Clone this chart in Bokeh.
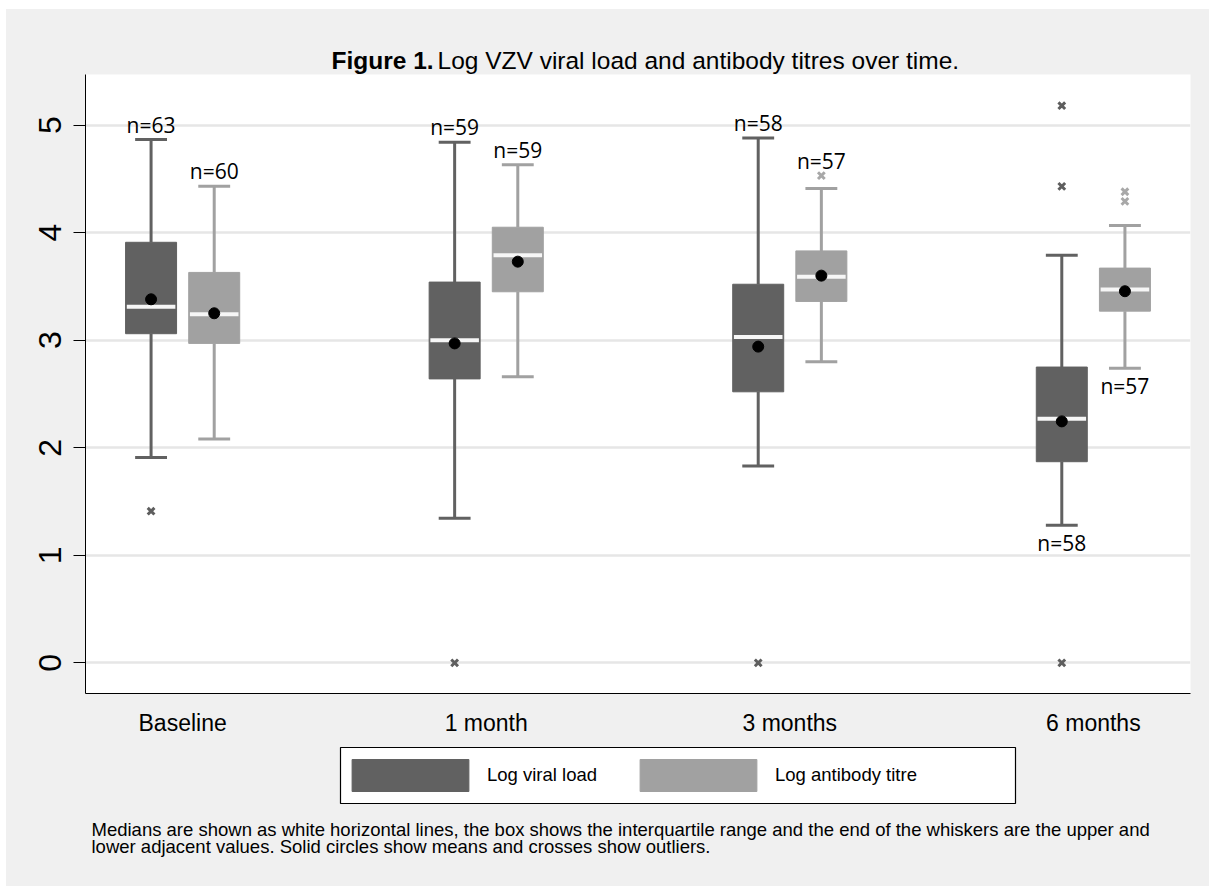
import numpy as np
from bokeh.plotting import figure
from bokeh.layouts import column
from bokeh.models import (BoxAnnotation, ColumnDataSource, FixedTicker, Label, Legend,
                          LegendItem, Range1d)
from bokeh.core.properties import value
from bokeh.embed import file_html
from bokeh.resources import INLINE

# ---------------- data ----------------
timepoints = ["Baseline", "1 month", "3 months", "6 months"]
series_names = ["Log viral load", "Log antibody titre"]

vl_q1 = [3.06, 2.64, 2.52, 1.87]
vl_median = [3.31, 3.00, 3.03, 2.27]
vl_q3 = [3.91, 3.54, 3.52, 2.75]
vl_lower = [1.91, 1.345, 1.83, 1.28]
vl_upper = [4.865, 4.84, 4.88, 3.79]
vl_mean = [3.38, 2.97, 2.94, 2.245]
vl_n = [63, 59, 58, 58]
vl_outliers = [[1.41], [0.0], [0.0], [0.0, 4.43, 5.18]]
vl_nside = ["above", "above", "above", "below"]

ab_q1 = [2.97, 3.45, 3.36, 3.27]
ab_median = [3.24, 3.79, 3.59, 3.47]
ab_q3 = [3.63, 4.05, 3.83, 3.67]
ab_lower = [2.08, 2.66, 2.80, 2.74]
ab_upper = [4.43, 4.63, 4.41, 4.065]
ab_mean = [3.25, 3.73, 3.60, 3.455]
ab_n = [60, 59, 57, 57]
ab_outliers = [[], [], [4.53], [4.29, 4.38]]
ab_nside = ["above", "above", "above", "below"]

y_ticks = [0, 1, 2, 3, 4, 5]

title_bold = "Figure 1."
title_rest = "Log VZV viral load and antibody titres over time."
note_1 = ("Medians are shown as white horizontal lines, the box shows the interquartile range "
          "and the end of the whiskers are the upper and")
note_2 = "lower adjacent values. Solid circles show means and crosses show outliers."

# ---------------- styling ----------------
FONT = "Liberation Sans"
BG = "#f0f0f0"
DARK = "#616161"
LIGHT = "#a1a1a1"
DARK_OUT = "#5e5e5e"
LIGHT_OUT = "#a8a8a8"
colors = [DARK, LIGHT]
out_colors = [DARK_OUT, LIGHT_OUT]

DODGE = 0.104
BOX_W = 0.168
CAP_W = 0.105
MED_W = 0.16

W = 1203
ML, MR = 79, 19   # shared frame borders (frames of a column are aligned)


def strip(height):
    f = figure(width=W, height=height, output_backend="svg", toolbar_location=None,
               x_axis_type=None, y_axis_type=None, x_range=Range1d(0, 1), y_range=Range1d(0, 1),
               min_border_left=ML, min_border_right=MR, min_border_top=0, min_border_bottom=0,
               background_fill_color=None, border_fill_color=BG, border_fill_alpha=1.0,
               styles={"background-color": BG})
    f.outline_line_color = None
    f.grid.visible = False
    return f


def label(fig, x, y, text, size, bold=False):
    fig.add_layout(Label(x=x, y=y, x_units="screen", y_units="screen", text=text,
                         text_font=FONT, text_font_style="bold" if bold else "normal",
                         text_font_size=size, text_color="black",
                         text_baseline="middle", text_align="left"))


# ---------------- title strip ----------------
top = strip(65)
label(top, 246, 14, title_bold, "24.5px", bold=True)
label(top, 352, 14, title_rest, "24.5px")

# ---------------- main chart ----------------
p = figure(width=W, height=666, output_backend="svg", toolbar_location=None,
           x_range=Range1d(0.68, 4.32), y_range=Range1d(-0.285, 5.47),
           min_border_left=ML, min_border_right=MR, min_border_top=0, min_border_bottom=47,
           background_fill_color="white", border_fill_color=BG, border_fill_alpha=1.0,
           styles={"background-color": BG})
p.outline_line_color = None

idx = np.arange(1, len(timepoints) + 1)

series = [
    dict(off=-DODGE, q1=vl_q1, med=vl_median, q3=vl_q3, lo=vl_lower, hi=vl_upper,
         mean=vl_mean, n=vl_n, out=vl_outliers, side=vl_nside),
    dict(off=DODGE, q1=ab_q1, med=ab_median, q3=ab_q3, lo=ab_lower, hi=ab_upper,
         mean=ab_mean, n=ab_n, out=ab_outliers, side=ab_nside),
]

sources = []
for k, s in enumerate(series):
    col, ocol = colors[k], out_colors[k]
    x = idx + s["off"]
    src = ColumnDataSource(dict(
        x=x, q1=s["q1"], med=s["med"], q3=s["q3"], lo=s["lo"], hi=s["hi"], mean=s["mean"],
        cl=x - CAP_W / 2, cr=x + CAP_W / 2, ml=x - MED_W / 2, mr=x + MED_W / 2,
    ))
    sources.append(src)
    p.segment(x0="x", y0="q3", x1="x", y1="hi", source=src, line_color=col, line_width=3)
    p.segment(x0="x", y0="q1", x1="x", y1="lo", source=src, line_color=col, line_width=3)
    p.segment(x0="cl", y0="hi", x1="cr", y1="hi", source=src, line_color=col, line_width=3)
    p.segment(x0="cl", y0="lo", x1="cr", y1="lo", source=src, line_color=col, line_width=3)
    p.vbar(x="x", width=BOX_W, bottom="q1", top="q3", source=src,
           fill_color=col, line_color=col, line_width=1)
    p.segment(x0="ml", y0="med", x1="mr", y1="med", source=src, line_color="#f6f6f6", line_width=4)
    p.scatter(x="x", y="mean", source=src, marker="circle", size=11, fill_color="black",
              line_color="black")
    ox, oy = [], []
    for xi, outs in zip(x, s["out"]):
        for v in outs:
            ox.append(xi)
            oy.append(v)
    if ox:
        p.scatter(x=ox, y=oy, marker="x", size=9.5, line_width=3, line_color=ocol)
    ax, ay, at, aoff = [], [], [], []
    for xi, n, side, hi, lo, outs in zip(x, s["n"], s["side"], s["hi"], s["lo"], s["out"]):
        ax.append(xi)
        at.append(f"n={n}")
        if side == "above":
            ay.append(max([hi] + [o for o in outs if o > hi]))
            aoff.append(-15)
        else:
            ay.append(lo)
            aoff.append(18)
    nsrc = ColumnDataSource(dict(x=ax, y=ay, t=at, off=aoff))
    p.text(x="x", y="y", text="t", y_offset="off", source=nsrc, text_align="center",
           text_baseline="middle", text_font=value("Open Sans"), text_font_size="21px",
           text_color="black")

p.xgrid.visible = False
p.ygrid.ticker = FixedTicker(ticks=y_ticks)
p.ygrid.grid_line_color = "#e6e6e6"
p.ygrid.grid_line_width = 2.5

p.yaxis.ticker = FixedTicker(ticks=y_ticks)
p.yaxis.major_label_orientation = "vertical"
p.yaxis.major_tick_out = 12
p.yaxis.major_tick_in = 0
p.yaxis.minor_tick_out = 0
p.yaxis.minor_tick_in = 0
p.yaxis.major_label_standoff = 12
p.yaxis.major_label_text_font = FONT
p.yaxis.major_label_text_font_size = "32px"
p.yaxis.major_label_text_color = "black"
p.yaxis.axis_line_color = "black"
p.yaxis.major_tick_line_color = "black"

p.xaxis.ticker = FixedTicker(ticks=list(idx))
p.xaxis.major_label_overrides = {int(i): t for i, t in zip(idx, timepoints)}
p.xaxis.major_tick_out = 0
p.xaxis.major_tick_in = 0
p.xaxis.minor_tick_out = 0
p.xaxis.minor_tick_in = 0
p.xaxis.major_label_standoff = 16
p.xaxis.major_label_text_font = FONT
p.xaxis.major_label_text_font_size = "23px"
p.xaxis.major_label_text_color = "black"
p.xaxis.axis_line_color = "black"

# ---------------- legend + note strip ----------------
bottom = strip(146)
# key renderers share the chart's sources; hidden here, only their legend swatches show
keys = []
for k in range(2):
    r = bottom.vbar(x="x", width=BOX_W, bottom="q1", top="q3", source=sources[k],
                    fill_color=colors[k], line_color=colors[k])
    r.visible = False
    keys.append(r)

bottom.add_layout(BoxAnnotation(left=255, right=930, top=139, bottom=83,
                                left_units="screen", right_units="screen",
                                top_units="screen", bottom_units="screen",
                                fill_color="white", fill_alpha=1.0,
                                line_color="black", line_width=1.2, line_alpha=1.0))
legend = Legend(items=[LegendItem(label=series_names[k], renderers=[keys[k]]) for k in range(2)],
                orientation="horizontal", location=(252, 91),
                glyph_width=146, glyph_height=40, label_standoff=4, label_width=138,
                spacing=0, padding=0, margin=0,
                label_text_font=FONT, label_text_font_size="18.5px", label_text_color="black",
                border_line_color=None, background_fill_alpha=0.0,
                inactive_fill_alpha=0.0)
bottom.add_layout(legend, "center")
label(bottom, 6, 57, note_1, "18.5px")
label(bottom, 6, 40, note_2, "18.5px")

page = column(top, p, bottom, spacing=0, margin=(9, 0, 0, 6),
              styles={"background-color": BG})
open("out.html", "w").write(file_html(page, INLINE))
